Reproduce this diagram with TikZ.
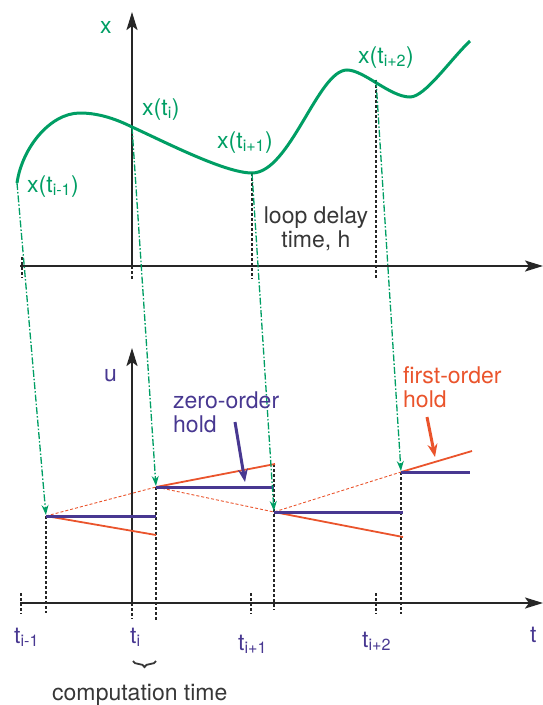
\documentclass[tikz,border=0pt]{standalone}
\usepackage{fontspec}
\setmainfont{TeX Gyre Heros}
\usetikzlibrary{arrows.meta,decorations.pathreplacing}
\definecolor{curvegreen}{RGB}{0,158,100}
\definecolor{zohblue}{RGB}{72,56,145}
\definecolor{fohred}{RGB}{234,84,44}
\definecolor{axisgray}{RGB}{38,38,38}
\definecolor{textgray}{RGB}{55,55,55}
\newcommand{\idx}[1]{\textsubscript{#1}}

\begin{document}
\begin{tikzpicture}[x=1pt, y=-1pt, font=\fontsize{23}{24}\selectfont]
\tikzstyle{axis}=[axisgray, line width=2.2pt, -{Stealth[length=18pt,width=11pt,inset=4pt]}]
\tikzstyle{curve}=[curvegreen, line width=3pt]
\tikzstyle{sample}=[curvegreen, line width=1.3pt, dash pattern=on 7pt off 2pt on 1.5pt off 2pt, -{Stealth[length=10pt,width=7pt]}, shorten >=1pt]
\tikzstyle{guide}=[axisgray, line width=1.3pt, dash pattern=on 3pt off 2pt]
\tikzstyle{zoh}=[zohblue, line width=3pt]
\tikzstyle{foh}=[fohred, line width=1.8pt]
\tikzstyle{fohext}=[fohred, line width=0.9pt, dash pattern=on 3pt off 2pt]
\tikzstyle{pointer}=[line width=3pt, -{Stealth[length=13pt,width=10pt]}]
\tikzstyle{lbl}=[inner sep=0pt, anchor=base west]

\useasboundingbox (0,0) rectangle (543,705);

% signal x(t)
\coordinate (xo) at (132,266);
\coordinate (s1) at (17,183);
\coordinate (s2) at (132,127);
\coordinate (s3) at (252,173);
\coordinate (s4) at (376,80);
\draw[axis] (20,266) -- (543,266);
\draw[axis] (xo) -- (132,12);
\draw[curve] (s1) .. controls (22,148) and (50,113) .. (80,113)
  .. controls (100,113) and (118,120) .. (s2)
  .. controls (165,142) and (225,173) .. (s3)
  .. controls (290,173) and (318,70) .. (347,70)
  .. controls (364,70) and (390,97) .. (410,97)
  .. controls (425,97) and (450,60) .. (470,41);
\draw[guide] (22,257) -- (22,278);
\draw[guide] (xo) -- (132,279);
\draw[guide] (s3) -- (252,279);
\draw[guide] (s4) -- (376,278);

\node[lbl, curvegreen] (xlab) at (100,33) {x};
\node[lbl, curvegreen] (xs1) at (27,192) {x(t\idx{i-1})};
\node[lbl, curvegreen] (xs2) at (142,115) {x(t\idx{i})};
\node[lbl, curvegreen] (xs3) at (217,148) {x(t\idx{i+1})};
\node[lbl, curvegreen] (xs4) at (358,63) {x(t\idx{i+2})};
\node[inner sep=0pt, anchor=north, align=center, textgray] (delay) at (316,207) {loop delay\\time, h};

% held output u(t)
\coordinate (uo) at (132,603);
\coordinate (h1) at (46,516);
\coordinate (h2) at (156,487);
\coordinate (h3) at (274,512);
\coordinate (h4) at (401,472);
\draw[axis] (20,603) -- (543,603);
\draw[axis] (uo) -- (132,348);

\draw[guide] (21,593) -- (21,614);
\draw[guide] (h1) -- (46,613);
\draw[guide] (uo) -- (132,619);
\draw[guide] (h2) -- (156,620);
\draw[guide] (251,593) -- (251,614);
\draw[guide] (274,464) -- (274,610);
\draw[guide] (376,593) -- (376,614);
\draw[guide] (h4) -- (401,614);

\draw[fohext] (h1) -- (h2) -- (h3) -- (h4);
\draw[foh] (h1) -- (156,535);
\draw[foh] (h2) -- (275,464);
\draw[foh] (h3) -- (403,537);
\draw[foh] (h4) -- (472,451);
\draw[zoh] (h1) -- (156,516);
\draw[zoh] (h2) -- (274,487);
\draw[zoh] (h3) -- (403,512);
\draw[zoh] (h4) -- (470,472);

\draw[sample] (s1) -- (h1);
\draw[sample] (s2) -- (h2);
\draw[sample] (s3) -- (h3);
\draw[sample] (s4) -- (h4);

\node[lbl, zohblue] (ulab) at (104,381) {u};
\node[inner sep=0pt, anchor=north west, align=left, zohblue] (zlab) at (173,392) {zero-order\\hold};
\node[inner sep=0pt, anchor=north west, align=left, fohred] (flab) at (403,366) {first-order\\hold};
\coordinate (zend) at (245,482);
\coordinate (fend) at (435,457);
\draw[pointer, zohblue] (235,422) -- (zend);
\draw[pointer, fohred] (427,417) -- (fend);

\node[lbl, zohblue] (t1) at (14,643) {t\idx{i-1}};
\node[lbl, zohblue] (t2) at (130,643) {t\idx{i}};
\node[lbl, zohblue] (t3) at (238,650) {t\idx{i+1}};
\node[lbl, zohblue] (t4) at (362,647) {t\idx{i+2}};
\node[lbl, zohblue] (tlab) at (530,642) {t};
\draw[textgray, line width=1.8pt, decorate, decoration={brace, amplitude=6pt, mirror}] (133,661) -- (156,661);
\node[lbl, textgray] (comp) at (52,700) {computation time};
\end{tikzpicture}
\end{document}
